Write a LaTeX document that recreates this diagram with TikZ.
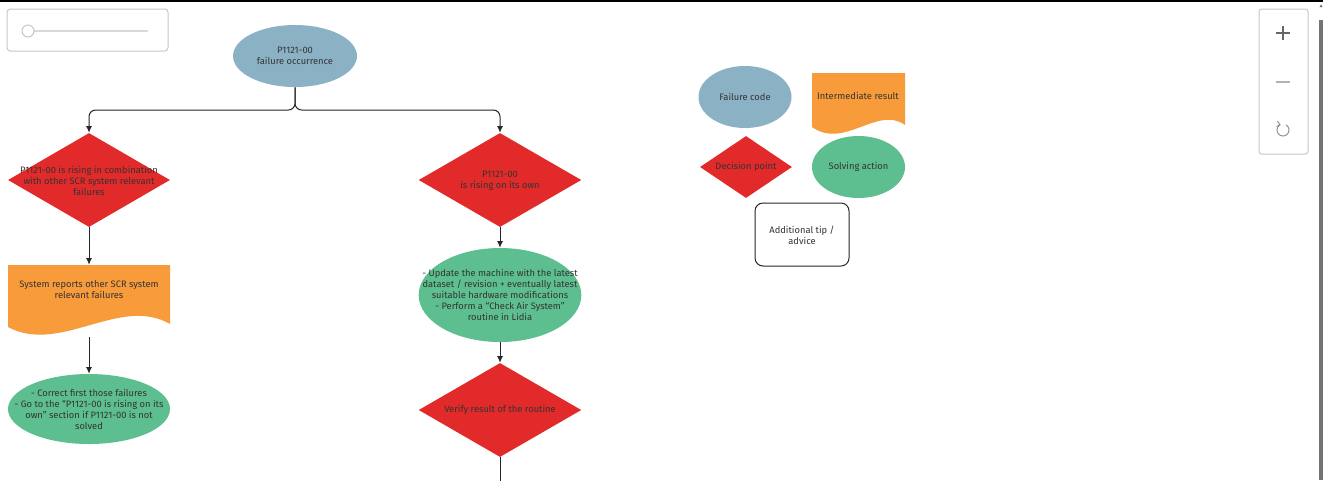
\documentclass[tikz,border=0pt]{standalone}
\usepackage{fontspec}
\setmainfont{Fira Sans}
\usetikzlibrary{shapes.geometric,arrows.meta}
\definecolor{fcblue}{HTML}{8BB1C4}
\definecolor{decred}{HTML}{E32A2A}
\definecolor{intorange}{HTML}{F79B3B}
\definecolor{solgreen}{HTML}{5DBF8F}
\definecolor{txtcol}{HTML}{333333}
\begin{document}
\begin{tikzpicture}[x=0.75pt,y=-0.75pt,
  ell/.style={ellipse, draw=none, inner sep=0},
  dia/.style={diamond, fill=decred, draw=none, inner sep=0},
  lbl/.style={font=\fontsize{7.0}{8.25}\selectfont, text=txtcol, align=center, inner sep=0},
  conn/.style={draw=black!85, line width=0.75pt},
  arr/.style={conn, -{Latex[length=5pt,width=4.5pt]}},
  docbox/.style={rectangle, draw=none, inner sep=0},
  ui/.style={draw=black!22, line width=0.75pt}]
\useasboundingbox (0,0) rectangle (1323,480);
\fill[white] (0,0) rectangle (1323,480);
\fill[black] (0,0) rectangle (1323,1.6);
% UI slider
\draw[ui, rounded corners=2.5pt] (7,9) rectangle (168,51);
\draw[black!15, line width=1.2pt] (28,31) -- (148,31);
\draw[ui, fill=white] (28,31) circle[radius=6];
% zoom controls
\draw[ui, rounded corners=2pt] (1259,9) rectangle (1308,154);
\draw[black!60, line width=0.8pt] (1276,33) -- (1290,33) (1283,26) -- (1283,40);
\draw[black!30, line width=0.8pt] (1276,82) -- (1290,82);
\begin{scope}[shift={(1283,130)}, x=0.75pt, y=0.75pt]
  \draw[black!45, line width=0.7pt] (60:6) arc[start angle=60, end angle=-240, radius=6];
  \draw[black!45, line width=0.7pt] (-5.5,9) -- (-3,5.2) -- (-6.5,3.5);
\end{scope}
% scrollbar
\fill[black!55] (1319,20) rectangle (1323,480);
\fill[black!60] (1319.5,7) -- (1322.5,7) -- (1321,4.5) -- cycle;

% main flow
\node[ell, fill=fcblue, minimum width=93pt, minimum height=46.5pt] (top) at (295,56) {};
\node[lbl] (topt) at (top) {P1121-00\\failure occurrence};

\node[dia, minimum width=121.5pt, minimum height=70.5pt] (d1) at (89,180) {};
\node[lbl] (d1t) at (89,181) {P1121-00 is rising in combination\\with other SCR system relevant\\failures};

\fill[intorange] (8,265) -- (170,265) -- (170,324) .. controls (120,295) and (60,355) .. (8,327) -- cycle;
\node[docbox, minimum width=121.5pt, minimum height=54pt] (doc1) at (89,301) {};
\node[lbl] (doc1t) at (89,290) {System reports other SCR system\\relevant failures};

\node[ell, fill=solgreen, minimum width=121.5pt, minimum height=52.5pt] (s1) at (89,409) {};
\node[lbl] (s1t) at (89,409.5) {- Correct first those failures\\- Go to the “P1121-00 is rising on its\\own” section if P1121-00 is not\\solved};

\node[dia, minimum width=122pt, minimum height=70.5pt] (d2) at (500,180) {};
\node[lbl] (d2t) at (500,181) {P1121-00\\is rising on its own};

\node[ell, fill=solgreen, minimum width=122pt, minimum height=70.5pt] (s2) at (500,295) {};
\node[lbl] (s2t) at (500,295) {- Update the machine with the latest\\dataset / revision + eventually latest\\suitable hardware modifications\\- Perform a “Check Air System”\\routine in Lidia};

\node[dia, minimum width=122pt, minimum height=70.5pt] (d3) at (500,410) {};
\node[lbl] (d3t) at (500,410) {Verify result of the routine};

\coordinate (split) at (295,110);
\coordinate (offbottom) at (500,482);

\draw[arr, rounded corners=5pt] (top.south) -- (split) -| (d1.north);
\draw[arr, rounded corners=5pt] (top.south) -- (split) -| (d2.north);
\draw[arr] (d1.south) -- (doc1.north);
\draw[arr] (doc1.south) -- (s1.north);
\draw[arr] (d2.south) -- (s2.north);
\draw[arr] (s2.south) -- (d3.north);
\draw[conn] (d3.south) -- (offbottom);

% legend
\node[ell, fill=fcblue, minimum width=69.75pt, minimum height=46.5pt] (lfc) at (745,97) {};
\node[lbl] (lfct) at (lfc) {Failure code};

\fill[intorange] (812,73) -- (905,73) -- (905,125) .. controls (878,105) and (844,150) .. (812,127) -- cycle;
\node[docbox, minimum width=69.75pt, minimum height=45pt] (lir) at (858.5,103) {};
\node[lbl] (lirt) at (858,96) {Intermediate result};

\node[dia, minimum width=69pt, minimum height=46.5pt] (ldp) at (746,167) {};
\node[lbl] (ldpt) at (ldp) {Decision point};

\node[ell, fill=solgreen, minimum width=69.75pt, minimum height=46.5pt] (lsa) at (858.5,167) {};
\node[lbl] (lsat) at (lsa) {Solving action};

\node[rectangle, draw=black!85, line width=0.75pt, rounded corners=6pt, minimum width=70.5pt, minimum height=47.25pt, inner sep=0] (ltip) at (802,234.5) {};
\node[lbl] (ltipt) at (802,235) {Additional tip /\\advice};
\end{tikzpicture}
\end{document}
